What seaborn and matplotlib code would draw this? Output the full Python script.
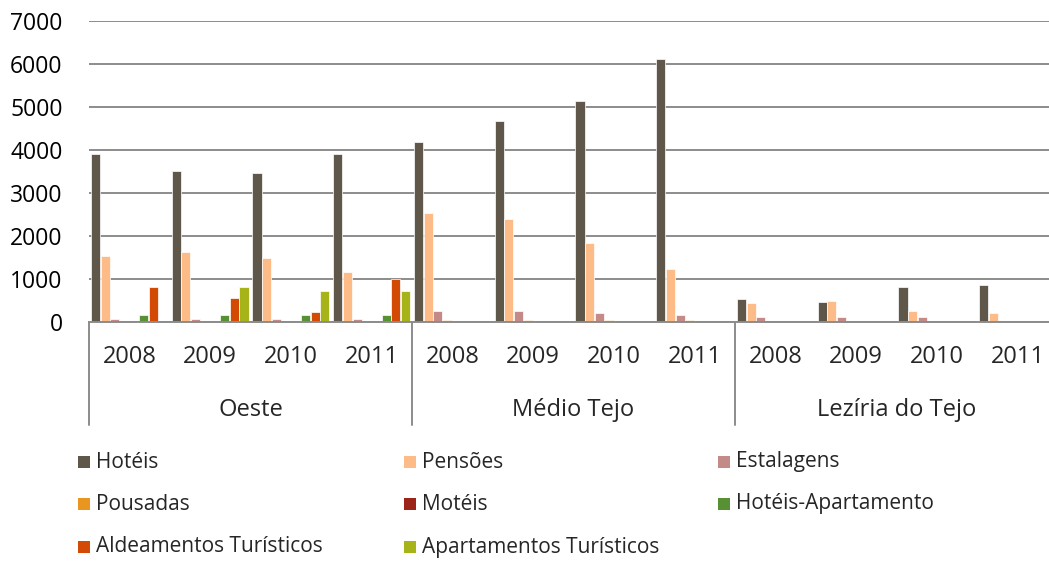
import numpy as np
import pandas as pd
import matplotlib.pyplot as plt
import matplotlib.transforms as mtransforms
from matplotlib.patches import Rectangle
import seaborn as sns

# Data
regions = ["Oeste", "Médio Tejo", "Lezíria do Tejo"]
years = ["2008", "2009", "2010", "2011"]
series = ["Hotéis", "Pensões", "Estalagens", "Pousadas", "Motéis",
          "Hotéis-Apartamento", "Aldeamentos Turísticos", "Apartamentos Turísticos"]

hoteis = [3910, 3510, 3460, 3900, 4185, 4680, 5150, 6125, 545, 460, 815, 860]
pensoes = [1535, 1630, 1480, 1160, 2530, 2390, 1845, 1230, 435, 490, 245, 215]
estalagens = [75, 75, 75, 75, 245, 245, 205, 160, 110, 110, 110, 0]
pousadas = [10, 10, 10, 10, 45, 45, 45, 45, 10, 10, 10, 0]
moteis = [0, 0, 0, 0, 0, 0, 0, 0, 0, 0, 0, 0]
hoteis_apart = [165, 165, 165, 165, 0, 0, 0, 0, 0, 0, 0, 0]
aldeamentos = [820, 550, 240, 1000, 0, 0, 0, 0, 0, 0, 0, 0]
apartamentos = [0, 820, 720, 720, 0, 0, 0, 0, 0, 0, 0, 0]

colors = ["#5f5749", "#fdbb87", "#c38a87", "#e8961f", "#9b2317",
          "#579134", "#d24a04", "#a6b419"]

values = [hoteis, pensoes, estalagens, pousadas, moteis,
          hoteis_apart, aldeamentos, apartamentos]

cats = [f"{r} {y}" for r in regions for y in years]
rows = []
for name, vals in zip(series, values):
    for c, v in zip(cats, vals):
        rows.append({"cat": c, "tipo": name, "valor": v})
df = pd.DataFrame(rows)

sns.set_style("white")
plt.rcParams["font.family"] = ["Open Sans", "DejaVu Sans"]

fig = plt.figure(figsize=(10.49, 5.62), dpi=100)
W, H = 1049, 562
ax = fig.add_axes([89 / W, 1 - 322 / H, (1058 - 89) / W, 301 / H])

sns.barplot(data=df, x="cat", y="valor", hue="tipo", order=cats,
            hue_order=series, palette=colors, saturation=1, width=0.96,
            gap=0.06, edgecolor="white", linewidth=0.5, legend=False, ax=ax)

ax.set_xlim(-0.5, 11.5)
ax.set_ylim(0, 7000)
ax.set_yticks(np.arange(0, 7001, 1000))
ax.yaxis.grid(True, color="#8c8c8c", linewidth=1.4)
ax.set_axisbelow(True)
ax.tick_params(axis="y", length=0, pad=19, labelsize=16.5, labelcolor="black")
ax.set_xticks([])
ax.set_xlabel("")
ax.set_ylabel("")
for s in ["left", "right", "top"]:
    ax.spines[s].set_visible(False)
ax.spines["bottom"].set_color("#8c8c8c")
ax.spines["bottom"].set_linewidth(1.4)

# multi-level category axis
trans = mtransforms.blended_transform_factory(ax.transData, ax.transAxes)
for i, c in enumerate(cats):
    ax.text(i, -35 / 301, years[i % 4], transform=trans, ha="center",
            va="center", fontsize=17)
for g, r in enumerate(regions):
    ax.text(g * 4 + 1.5, -88 / 301, r, transform=trans, ha="center",
            va="center", fontsize=17)
for xb in [-0.5, 3.5, 7.5, 11.5]:
    ax.plot([xb, xb], [0, -103 / 301], transform=trans, color="#8c8c8c",
            linewidth=1.4, clip_on=False)

# legend laid out like the original (3 columns)
col_x = [78, 404, 718]
row_y = [462, 504, 547]
for i, (name, col) in enumerate(zip(series, colors)):
    x = col_x[i % 3]
    y = row_y[i // 3]
    fig.patches.append(Rectangle((x / W, 1 - (y + 6) / H), 12 / W, 12 / H,
                                 transform=fig.transFigure, facecolor=col,
                                 edgecolor="none"))
    fig.text((x + 18) / W, 1 - y / H, name, ha="left", va="center",
             fontsize=15)

fig.savefig("out.png", dpi=100)
